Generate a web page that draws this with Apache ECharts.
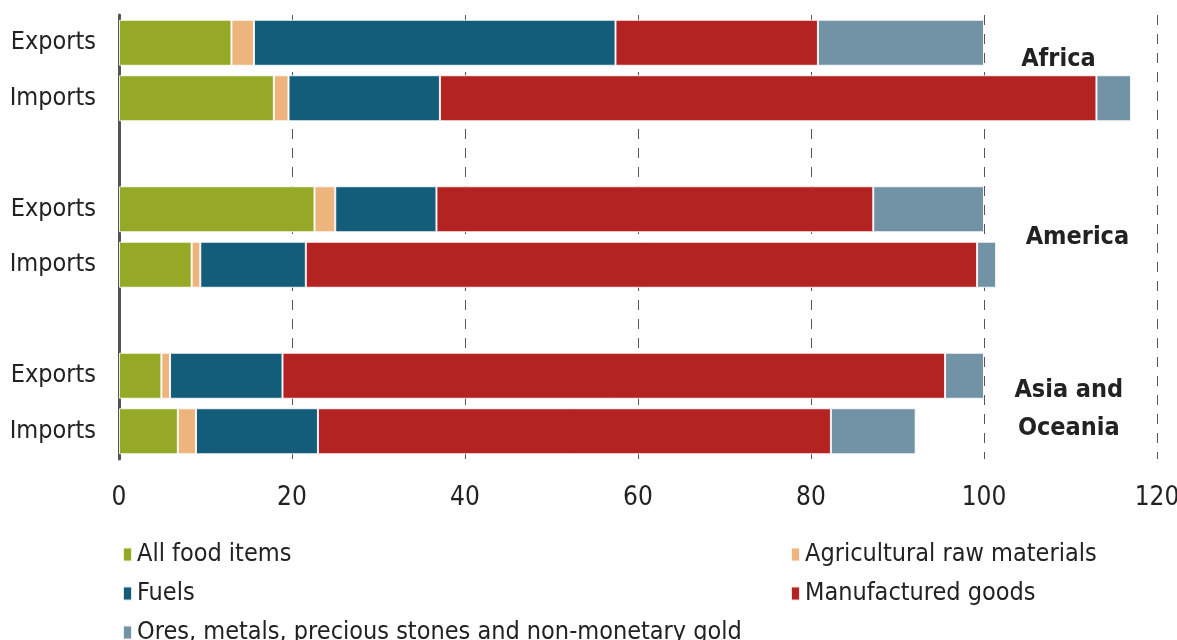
<!DOCTYPE html>
<html>
<head>
<meta charset="utf-8">
<script src="https://cdn.jsdelivr.net/npm/echarts@6/dist/echarts.min.js"></script>
<style>
html,body{margin:0;padding:0;background:#fff;}
#chart{width:1177px;height:640px;}
</style>
</head>
<body>
<div id="chart"></div>
<script>
// Rows (top to bottom); gap rows separate the regions
const rowKeys = ['Africa|Exports','Africa|Imports','gap1','America|Exports','America|Imports','gap2','Asia|Exports','Asia|Imports'];
const seriesNames = ['All food items','Agricultural raw materials','Fuels','Manufactured goods','Ores, metals, precious stones and non-monetary gold'];
const food        = [13.0, 17.9, null, 22.6,  8.4, null,  4.9,  6.8];
const agri        = [ 2.6,  1.7, null,  2.4,  1.0, null,  1.0,  2.1];
const fuels       = [41.8, 17.5, null, 11.7, 12.2, null, 13.0, 14.1];
const manuf       = [23.4, 75.9, null, 50.5, 77.6, null, 76.6, 59.3];
const ores        = [19.2,  4.0, null, 12.8,  2.2, null,  4.5,  9.8];
const xTicks = [0, 20, 40, 60, 80, 100, 120];
const regionLabels = ['Africa', 'America', 'Asia and\nOceania'];

const colors = ['#95A927','#EDB47D','#135C7A','#B22322','#7292A5'];
const FONT = "'DejaVu Sans', sans-serif";
const W_N = 'normal condensed';
const W_B = 'bold condensed';
const values = [food, agri, fuels, manuf, ores];

const chart = echarts.init(document.getElementById('chart'));
const legendText = {fontFamily: FONT, fontWeight: W_N, fontSize: 25, color: '#222', lineHeight: 24, padding: [0,0,0,0]};
const option = {
  animation: false,
  backgroundColor: '#fff',
  grid: {left: 119, right: 20, top: 15, bottom: 181, containLabel: false, outerBoundsMode: 'none'},
  xAxis: {
    type: 'value', min: xTicks[0], max: xTicks[xTicks.length-1], interval: 20,
    axisLine: {show: false}, axisTick: {show: false},
    axisLabel: {fontFamily: FONT, fontWeight: W_N, fontSize: 26, color: '#222', margin: 26,
      formatter: v => xTicks.includes(v) ? String(v) : ''},
    splitLine: {show: true, lineStyle: {type: [10, 9], color: '#555', width: 1}}
  },
  yAxis: {
    type: 'category', inverse: true, data: rowKeys,
    axisLine: {show: true, onZero: false, lineStyle: {color: '#555', width: 3}},
    axisTick: {show: false},
    axisLabel: {fontFamily: FONT, fontWeight: W_N, fontSize: 25, color: '#222', margin: 23,
      formatter: v => v.indexOf('|') >= 0 ? v.split('|')[1] : ''}
  },
  legend: [
    {data: [seriesNames[0], seriesNames[2], seriesNames[4]], orient: 'vertical',
     left: 122, top: 542, height: 130, width: 640, padding: 0, itemWidth: 9, itemHeight: 14, itemGap: 14,
     icon: 'rect', textStyle: legendText},
    {data: [seriesNames[1], seriesNames[3]], orient: 'vertical',
     left: 790, top: 542, height: 130, width: 380, padding: 0, itemWidth: 9, itemHeight: 14, itemGap: 14,
     icon: 'rect', textStyle: legendText}
  ],
  series: seriesNames.map((n, i) => ({
    name: n, type: 'bar', stack: 'total', barWidth: 46,
    itemStyle: {color: colors[i], borderColor: 'rgba(255,255,255,0.85)', borderWidth: 1},
    data: values[i].map(v => v === null ? '-' : v)
  }))
};
chart.setOption(option);

function placeLabels() {
  const x = v => chart.convertToPixel({xAxisIndex: 0}, v);
  const y = r => {
    const lo = Math.floor(r), hi = Math.ceil(r);
    const a = chart.convertToPixel({yAxisIndex: 0}, rowKeys[lo]);
    const b = chart.convertToPixel({yAxisIndex: 0}, rowKeys[hi]);
    return a + (b - a) * (r - lo);
  };
  const mk = (px, py, text) => ({type: 'text', x: px, y: py,
    style: {text: text, fontFamily: FONT, fontSize: 25, fontWeight: W_B, fill: '#222',
      align: 'center', verticalAlign: 'middle', lineHeight: 38}});
  chart.setOption({graphic: [
    mk(x(108.6), y(0.3), regionLabels[0]),
    mk(x(110.8), y(3.5), regionLabels[1]),
    mk(x(109.8), y(6.6), regionLabels[2])
  ]});
}
placeLabels();
</script>
</body>
</html>
